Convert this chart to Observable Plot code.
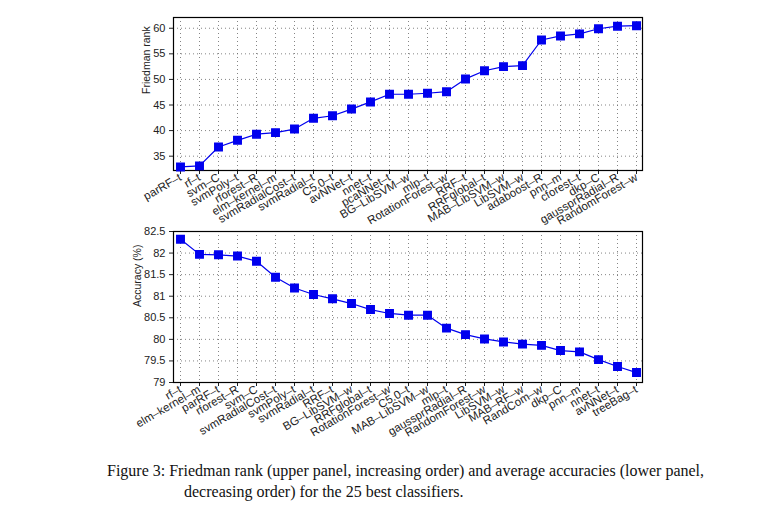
<!DOCTYPE html>
<html>
<head>
<meta charset="utf-8">
<script src="https://cdn.jsdelivr.net/npm/d3@7"></script>
<script src="https://cdn.jsdelivr.net/npm/@observablehq/plot@0.6"></script>
<style>
  body { margin: 0; background: #fff; width: 764px; }
  svg { display: block; overflow: visible; }
  .caption {
    font-family: "Liberation Serif", serif; font-size: 16px; color: #111;
    margin: 20px 0 0 107px; width: 650px; box-sizing: border-box;
    padding-left: 77px; text-indent: -77px; line-height: 21px;
  }
</style>
</head>
<body>
<div id="top"></div>
<div id="bottom"></div>
<div class="caption">Figure 3: Friedman rank (upper panel, increasing order) and average accuracies (lower panel, decreasing order) for the 25 best classifiers.</div>
<script>
// upper panel: Friedman rank, increasing
const rankNames = ["parRF–t", "rf–t", "svm–C", "svmPoly–t", "rforest–R", "elm–kernel–m", "svmRadialCost–t",
  "svmRadial–t", "C5.0–t", "avNNet–t", "nnet–t", "pcaNNet–t", "BG–LibSVM–w", "mlp–t", "RotationForest–w",
  "RRF–t", "RRFglobal–t", "MAB–LibSVM–w", "LibSVM–w", "adaboost–R", "pnn–m", "cforest–t", "dkp–C",
  "gaussprRadial–R", "RandomForest–w"];
const rankValues = [32.9, 33.1, 36.8, 38.1, 39.3, 39.6, 40.3, 42.4, 42.9, 44.2, 45.6, 47.1, 47.1, 47.3, 47.6,
  50.1, 51.7, 52.5, 52.7, 57.7, 58.5, 58.9, 59.9, 60.4, 60.5];
const rankTicks = [35, 40, 45, 50, 55, 60];

// lower panel: accuracy, decreasing
const accNames = ["rf–t", "elm–kernel–m", "parRF–t", "rforest–R", "svm–C", "svmRadialCost–t", "svmPoly–t",
  "svmRadial–t", "RRF–t", "BG–LibSVM–w", "RRFglobal–t", "RotationForest–w", "C5.0–t", "MAB–LibSVM–w", "mlp–t",
  "gaussprRadial–R", "RandomForest–w", "LibSVM–w", "MAB–RF–w", "RandCom–w", "dkp–C", "pnn–m", "nnet–t",
  "avNNet–t", "treeBag–t"];
const accValues = [82.32, 81.97, 81.96, 81.93, 81.81, 81.44, 81.19, 81.04, 80.94, 80.83, 80.69, 80.60, 80.56,
  80.56, 80.26, 80.11, 80.01, 79.94, 79.89, 79.86, 79.74, 79.71, 79.53, 79.37, 79.23];
const accTicks = [79, 79.5, 80, 80.5, 81, 81.5, 82, 82.5];

const BLUE = "#0000ee";

function panel(names, values, yDomain, yTicks, yLabel, labelDx, mt, mb, h) {
  const data = names.map((n, i) => ({ n, v: values[i] }));
  return Plot.plot({
    width: 764, height: h,
    marginLeft: 173, marginRight: 122, marginTop: mt, marginBottom: mb,
    style: { fontFamily: "Liberation Sans, sans-serif", fontSize: "11px", color: "#222", overflow: "visible" },
    x: { type: "point", domain: names, padding: 0, label: null },
    y: { domain: yDomain, ticks: yTicks, label: null, tickFormat: (d) => String(d) },
    marks: [
      Plot.gridX(names, { stroke: "#666", strokeOpacity: 0.8, strokeDasharray: "1,3" }),
      Plot.gridY(yTicks, { stroke: "#666", strokeOpacity: 0.8, strokeDasharray: "1,3" }),
      Plot.axisX({ tickRotate: -30, tickSize: 4, tickPadding: 2, fontSize: 11.5 }),
      Plot.axisY({ ticks: yTicks, tickSize: 4, tickPadding: 4, fontSize: 11, tickFormat: (d) => String(d) }),
      Plot.text([yLabel], { frameAnchor: "left", dx: labelDx, rotate: -90, fontSize: 10.5 }),
      Plot.frame({ stroke: "#000", strokeWidth: 1.2 }),
      Plot.line(data, { x: "n", y: "v", stroke: BLUE, strokeWidth: 1.2 }),
      Plot.dot(data, { x: "n", y: "v", symbol: "square", r: 4.2, fill: BLUE, stroke: BLUE })
    ]
  });
}

document.getElementById("top").appendChild(
  panel(rankNames, rankValues, [32.2, 62.1], rankTicks, "Friedman rank", -27, 17, 55, 225));
document.getElementById("bottom").appendChild(
  panel(accNames, accValues, [79, 82.5], accTicks, "Accuracy (%)", -36, 6, 58, 215));
</script>
</body>
</html>
